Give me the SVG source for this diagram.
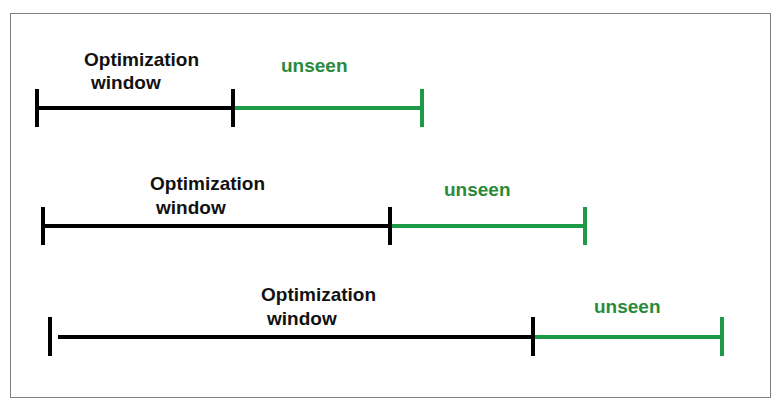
<svg xmlns="http://www.w3.org/2000/svg" width="780" height="409" viewBox="0 0 780 409">
<style>
.lbl{font-family:"Liberation Sans",Arial,sans-serif;font-weight:bold;font-size:19px;fill:#111}
.uns{font-family:"Liberation Sans",Arial,sans-serif;font-weight:bold;font-size:19px;fill:#2a8a3c}
.blk{stroke:#000;stroke-width:4;fill:none}
.grn{stroke:#1c9a48;stroke-width:4;fill:none}
</style>
<rect x="10.5" y="13.5" width="760" height="384" fill="#fff" stroke="#808080" stroke-width="1"/>
<g id="row1">
<text class="lbl" x="84" y="66">Optimization</text>
<text class="lbl" x="91" y="89">window</text>
<text class="uns" x="281" y="72">unseen</text>
</g>
<g id="row2">
<text class="lbl" x="150" y="190">Optimization</text>
<text class="lbl" x="156" y="214">window</text>
<text class="uns" x="444" y="196">unseen</text>
</g>
<g id="row3">
<text class="lbl" x="261" y="301">Optimization</text>
<text class="lbl" x="267" y="325">window</text>
<text class="uns" x="594" y="313">unseen</text>
</g>
<g id="connectors">
<line class="blk" x1="37" y1="108" x2="233" y2="108"/>
<line class="blk" x1="37" y1="89" x2="37" y2="127"/>
<line class="grn" x1="233" y1="108" x2="422" y2="108"/>
<line class="blk" x1="233" y1="89" x2="233" y2="127"/>
<line class="grn" x1="422" y1="89" x2="422" y2="127"/>

<line class="blk" x1="43" y1="226" x2="390" y2="226"/>
<line class="blk" x1="43" y1="207" x2="43" y2="245"/>
<line class="grn" x1="390" y1="226" x2="585" y2="226"/>
<line class="blk" x1="390" y1="207" x2="390" y2="245"/>
<line class="grn" x1="585" y1="207" x2="585" y2="245"/>

<line class="blk" x1="58" y1="337" x2="533" y2="337"/>
<line class="blk" x1="50" y1="317" x2="50" y2="356"/>
<line class="grn" x1="533" y1="337" x2="722" y2="337"/>
<line class="blk" x1="533" y1="317" x2="533" y2="356"/>
<line class="grn" x1="722" y1="317" x2="722" y2="356"/>
</g>
</svg>
